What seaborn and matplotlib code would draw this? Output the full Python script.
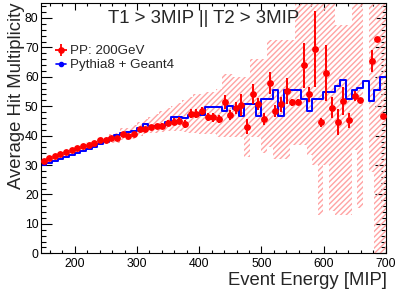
import numpy as np
import pandas as pd
import matplotlib
matplotlib.use("Agg")
import matplotlib.pyplot as plt
import seaborn as sns
from matplotlib.lines import Line2D
from matplotlib.ticker import MultipleLocator

# binning of the energy histogram (61 bins from 145 to 700 MIP)
bin_lo, bin_hi, n_bins = 145, 700, 61

# PP 200GeV data: mean hit multiplicity per energy bin (nan = empty bin)
data_mean = [31.5, 32.3, 33.1, 33.8, 34.6, 35.1, 35.8, 36.4, 36.9, 37.4, 38.4, 38.4, 39.1, 39.2, 40.5, 39.9, 40.6,
             42.3, 42.2, 42.9, 43.2, 43.4, 44.4, 44.8, 45.0, 43.9, 47.5, 47.5,
             48.4, 46.3, 46.2, 45.6, 51.4, 47.0, 49.5, 50.4, 43.1, 54.1, 50.7, 45.7, 57.8, 48.4, 50.7, 55.2, 51.3, 51.5,
             63.9, 54.1, 69.5, 44.6, 61.3, 49.5, 44.6, 51.8, 45.2, 53.4, 52.2, np.nan, 65.4, 72.8, 46.6]
data_err = [0.2, 0.2, 0.2, 0.2, 0.2, 0.2, 0.2, 0.2, 0.2, 0.2, 0.3, 0.3, 0.4, 0.4, 0.5, 0.5, 0.6,
            0.7, 0.8, 0.8, 0.9, 1.0, 1.0, 1.1, 1.2, 1.3, 1.5, 1.5,
            1.4, 1.3, 1.5, 1.4, 2.5, 1.7, 2.0, 3.7, 2.5, 3.4, 2.0, 2.0, 3.7, 2.0, 2.5, 4.5, 1.2, 0.8,
            7.6, 2.5, 13.0, 1.5, 9.6, 3.5, 4.3, 4.8, 2.5, 1.7, 0.7, np.nan, 3.7, 0.5, 0.5]

# Pythia8 + Geant4 simulation
mc_mean = [30.0, 30.7, 31.4, 32.1, 32.8, 33.5, 34.2, 34.9, 35.6, 36.3, 37.0, 37.9, 39.3, 40.2, 40.9, 41.3, 41.7,
           42.5, 43.8, 43.3, 43.3, 43.4, 44.7, 46.5, 46.5, 46.0, 47.0, 47.6,
           47.0, 49.7, 49.7, 49.7, 48.3, 50.0, 49.1, 46.6, 50.7, 50.7, 46.6, 52.5, 52.5, 55.6, 46.6, 55.6, 55.6, 55.6,
           52.4, 48.3, 52.6, 52.6, 54.8, 54.8, 56.9, 58.8, 52.5, 55.5, 56.3, 58.5, 51.8, 55.5, 59.9]

# hatched spread band of the data
band_lo = [31.2, 32.0, 32.8, 33.4, 34.1, 34.6, 35.2, 35.7, 36.1, 36.5, 37.2, 37.2, 37.6, 37.6, 38.5, 38.5, 39.0,
           40.0, 40.5, 40.8, 41.0, 41.2, 41.5, 41.5, 41.5, 41.3, 41.0, 41.0,
           40.5, 40.5, 40.5, 39.7, 39.7, 39.7, 39.7, 39.7, 32.9, 39.7, 39.7, 34.2, 36.0, 32.0, 32.0, 32.0, 36.8, 36.8,
           36.8, 33.4, 30.0, 13.0, 30.0, 14.4, 13.0, 13.0, 13.0, 35.0, 15.3, np.nan, 27.8, 0.0, 0.0]
band_hi = [31.8, 32.6, 33.4, 34.2, 35.1, 35.6, 36.4, 37.1, 37.7, 38.3, 39.6, 39.6, 40.6, 40.8, 42.5, 42.5, 43.5,
           44.8, 45.5, 46.5, 47.5, 48.5, 49.4, 50.2, 51.0, 52.0, 53.0, 54.0,
           54.0, 55.0, 55.0, 56.0, 61.0, 61.0, 60.0, 60.0, 60.0, 66.0, 66.0, 66.0, 72.5, 72.5, 72.5, 72.5, 72.5, 90.0,
           90.0, 90.0, 90.0, 90.0, 90.0, 90.0, 77.5, 77.5, 77.5, 90.0, 90.0, np.nan, 90.0, 90.0, 90.0]

edges = np.linspace(bin_lo, bin_hi, n_bins + 1)
centers = 0.5 * (edges[:-1] + edges[1:])
width = edges[1] - edges[0]

df = pd.DataFrame({
    "energy": centers,
    "data": data_mean,
    "err": data_err,
    "mc": mc_mean,
    "band_lo": band_lo,
    "band_hi": band_hi,
})

sns.set_style("ticks")
plt.rcParams["font.family"] = ["Liberation Sans", "DejaVu Sans"]
plt.rcParams["hatch.linewidth"] = 1.0

fig = plt.figure(figsize=(4.07, 2.92), dpi=100)
ax = fig.add_axes([0.1, 0.1325, 0.8477, 0.8583])

band = df.dropna(subset=["band_lo"])
ax.bar(band["energy"], band["band_hi"] - band["band_lo"], bottom=band["band_lo"],
       width=width, fill=False, hatch="//////", edgecolor="#ffa3a3", linewidth=0, zorder=1)

sns.histplot(data=df, x="energy", weights="mc", bins=edges.tolist(), element="step",
             fill=False, color="#0000ff", linewidth=1.4, ax=ax, zorder=2)

pts = df.dropna(subset=["data"])
ax.errorbar(pts["energy"], pts["data"], yerr=pts["err"], fmt="o", color="#ff0000",
            ms=3.9, elinewidth=1.4, capsize=0, zorder=3)

ax.set_xlim(bin_lo, bin_hi)
ax.set_ylim(0, 85.2)
ax.xaxis.set_major_locator(MultipleLocator(100))
ax.xaxis.set_minor_locator(MultipleLocator(20))
ax.yaxis.set_major_locator(MultipleLocator(10))
ax.yaxis.set_minor_locator(MultipleLocator(2))
ax.tick_params(which="both", direction="in", top=True, right=True, colors="black", width=0.8)
ax.tick_params(which="major", labelsize=8.8)
ax.tick_params(axis="x", which="major", length=4.7, pad=3.5)
ax.tick_params(axis="x", which="minor", length=2.4)
ax.tick_params(axis="y", which="major", length=7.6, pad=1.5)
ax.tick_params(axis="y", which="minor", length=3.8)
for sp in ax.spines.values():
    sp.set_visible(True)
    sp.set_color("black")
    sp.set_linewidth(0.8)

ax.set_xlabel("Event Energy [MIP]", loc="right", fontsize=13.3)
ax.set_ylabel("Average Hit Multiplicity", loc="top", fontsize=13.3)
ax.xaxis.set_label_coords(1.004, -0.073)
ax.yaxis.set_label_coords(-0.046, 1.0)

ax.text(0.4716, 0.938, "T1 > 3MIP || T2 > 3MIP", transform=ax.transAxes,
        ha="center", va="center", fontsize=13.4)

red_handle = (Line2D([], [], marker="+", ms=8, mew=1.3, color="#ff0000", ls="none"),
              Line2D([], [], marker="o", ms=3.8, color="#ff0000", ls="none"))
blue_handle = Line2D([], [], marker="o", ms=3, lw=1.2, color="#0000ff")
ax.legend([red_handle, blue_handle], ["PP: 200GeV", "Pythia8 + Geant4"],
          loc="upper left", bbox_to_anchor=(0.03, 0.852), frameon=False, fontsize=9.6,
          handlelength=0.7, handletextpad=0.3, labelspacing=0.12, borderaxespad=0)

fig.savefig("out.png", dpi=100)
